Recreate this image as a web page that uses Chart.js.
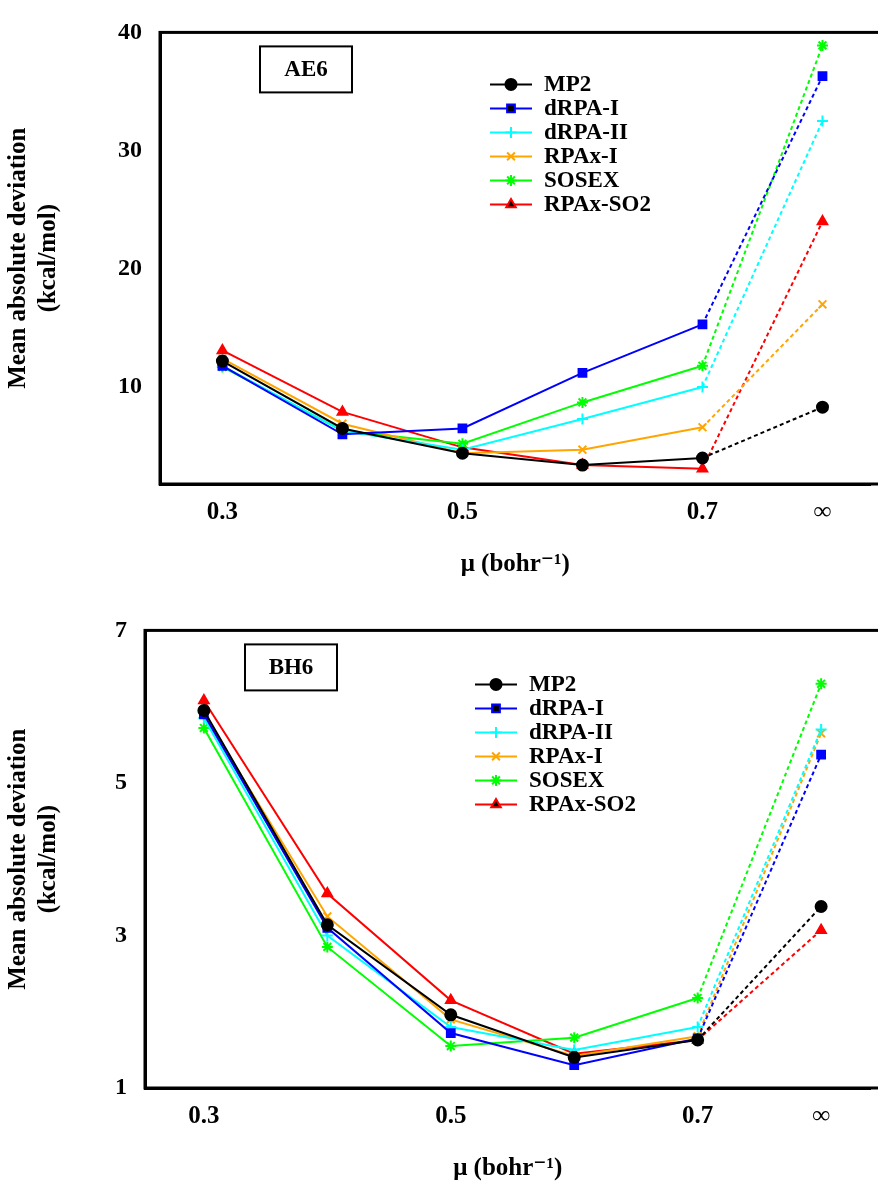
<!DOCTYPE html>
<html><head><meta charset="utf-8">
<script src="https://cdn.jsdelivr.net/npm/chart.js@4/dist/chart.umd.min.js"></script>
<style>
body{margin:0;background:#fff;width:878px;height:1188px;overflow:hidden}
.w{position:absolute;left:0;width:878px}
</style></head><body>
<div class="w" style="top:0;height:584px"><canvas id="ae6"></canvas></div>
<div class="w" style="top:598px;height:590px"><canvas id="bh6"></canvas></div>
<script>
const xValues = [0.3, 0.4, 0.5, 0.6, 0.7, 0.8];
const xTickLabels = {0.3: '0.3', 0.5: '0.5', 0.7: '0.7', 0.8: '∞'};
const seriesNames = ['MP2', 'dRPA-I', 'dRPA-II', 'RPAx-I', 'SOSEX', 'RPAx-SO2'];
const seriesColors = ['#000000', '#0000ff', '#00ffff', '#ffa500', '#00ff00', '#ff0000'];
const seriesPoints = ['circle', 'rect', 'cross', 'crossRot', 'star', 'triangle'];

const ae6MP2     = [12.2, 6.5, 4.4, 3.4, 4.0, 8.3];
const ae6dRPAI   = [11.8, 6.0, 6.5, 11.2, 15.3, 36.3];
const ae6dRPAII  = [11.8, 6.3, 4.7, 7.3, 10.0, 32.5];
const ae6RPAxI   = [12.4, 6.9, 4.4, 4.7, 6.6, 17.0];
const ae6SOSEX   = [11.7, 6.3, 5.2, 8.7, 11.8, 38.9];
const ae6RPAxSO2 = [13.1, 7.9, 4.9, 3.4, 3.1, 24.0];
const ae6Ticks = [10, 20, 30, 40];

const bh6MP2     = [5.95, 3.14, 1.96, 1.40, 1.63, 3.38];
const bh6dRPAI   = [5.90, 3.10, 1.72, 1.30, 1.65, 5.37];
const bh6dRPAII  = [5.85, 3.00, 1.80, 1.50, 1.80, 5.70];
const bh6RPAxI   = [5.90, 3.25, 1.90, 1.42, 1.68, 5.65];
const bh6SOSEX   = [5.72, 2.85, 1.55, 1.66, 2.18, 6.30];
const bh6RPAxSO2 = [6.08, 3.55, 2.15, 1.45, 1.63, 3.07];
const bh6Ticks = [1, 3, 5, 7];

const FONT = '"Liberation Serif", "DejaVu Serif", serif';

const overlay = {
    id: 'overlay',
    afterDraw(chart, args, opts) {
        const c = chart.ctx, a = chart.chartArea;
        c.save();
        // frame
        c.lineWidth = 3; c.strokeStyle = '#000';
        c.strokeRect(a.left, a.top, a.right - a.left + 10, a.bottom - a.top);
        // label box
        c.lineWidth = 2; c.fillStyle = '#fff';
        c.fillRect(a.left + opts.boxX, a.top + opts.boxY, 92, 46);
        c.strokeRect(a.left + opts.boxX, a.top + opts.boxY, 92, 46);
        c.fillStyle = '#000'; c.font = 'bold 23px ' + FONT;
        c.textAlign = 'center'; c.textBaseline = 'middle';
        c.fillText(opts.label, a.left + opts.boxX + 46, a.top + opts.boxY + 24);
        // legend
        c.textAlign = 'left';
        chart.data.datasets.forEach((ds, i) => {
            const y = a.top + opts.legY + i * 24, x = a.left + opts.legX;
            c.strokeStyle = ds.borderColor; c.lineWidth = 2;
            c.beginPath(); c.moveTo(x, y); c.lineTo(x + 42, y); c.stroke();
            Chart.helpers.drawPoint(c, {pointStyle: ds.pointStyle, radius: 5.5, borderWidth: 2}, x + 21, y);
            c.fillStyle = '#000'; c.font = 'bold 23px ' + FONT;
            c.fillText(ds.label, x + 54, y + 1);
        });
        c.restore();
    }
};

function makeChart(id, data, ticks, ymin, ymax, label, pos) {
    const datasets = data.map((vals, i) => ({
        label: seriesNames[i],
        data: vals.map((v, j) => ({x: xValues[j], y: v})),
        borderColor: seriesColors[i],
        backgroundColor: seriesColors[i],
        pointStyle: seriesPoints[i],
        pointRadius: 5.5,
        pointBorderWidth: 2,
        borderWidth: 2,
        segment: { borderDash: ctx => ctx.p0.parsed.x >= 0.69 ? [4, 3] : undefined }
    }));
    new Chart(document.getElementById(id), {
        type: 'line',
        data: { datasets },
        plugins: [overlay],
        options: {
            responsive: true, maintainAspectRatio: false, animation: false,
            layout: { padding: { top: pos.top, right: 0, left: 0, bottom: 0 } },
            plugins: { legend: { display: false }, tooltip: { enabled: false },
                overlay: { label, boxX: 100, boxY: 14, legX: 330, legY: pos.legY } },
            scales: {
                x: {
                    type: 'linear', min: pos.xmin, max: 0.84,
                    afterBuildTicks: ax => { ax.ticks = xValues.filter(v => xTickLabels[v]).map(v => ({value: v})); },
                    ticks: { callback: v => xTickLabels[v], color: '#000', font: { family: FONT, size: 25, weight: 'bold' }, padding: 14 },
                    grid: { display: false, drawTicks: false },
                    border: { color: '#000', width: 3 },
                    title: { display: true, text: 'μ (bohr⁻¹)', color: '#000', font: { family: FONT, size: 25, weight: 'bold' }, padding: { top: 8 } }
                },
                y: {
                    min: ymin, max: ymax,
                    afterFit: ax => { ax.width = pos.left; },
                    afterBuildTicks: ax => { ax.ticks = ticks.map(v => ({value: v})); },
                    ticks: { color: '#000', font: { family: FONT, size: 24, weight: 'bold' }, padding: 18 },
                    grid: { display: false, drawTicks: false },
                    border: { color: '#000', width: 3 },
                    title: { display: true, text: ['Mean absolute deviation', '(kcal/mol)'], color: '#000', font: { family: FONT, size: 25, weight: 'bold' }, padding: { bottom: 4 } }
                }
            }
        }
    });
}

makeChart('ae6', [ae6MP2, ae6dRPAI, ae6dRPAII, ae6RPAxI, ae6SOSEX, ae6RPAxSO2], ae6Ticks, 1.8, 40, 'AE6', {top: 14, left: 160, legY: 52, xmin: 0.248});
makeChart('bh6', [bh6MP2, bh6dRPAI, bh6dRPAII, bh6RPAxI, bh6SOSEX, bh6RPAxSO2], bh6Ticks, 1, 7, 'BH6', {top: 24, left: 145, legY: 54, xmin: 0.2523});
</script>
</body></html>
